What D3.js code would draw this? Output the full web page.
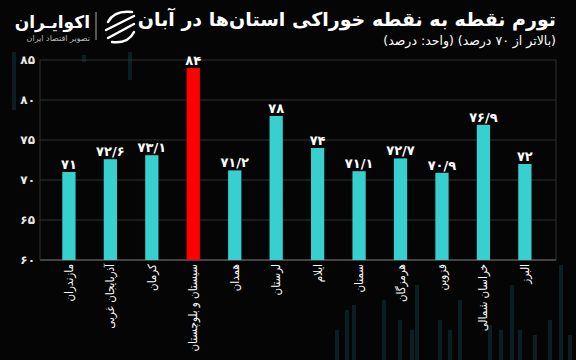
<!DOCTYPE html>
<html><head><meta charset="utf-8">
<script src="https://cdn.jsdelivr.net/npm/d3@7"></script>
<style>
html,body{margin:0;padding:0;background:#050505;}
svg{display:block;}
text{font-family:"DejaVu Sans","Noto Sans",sans-serif;}
.cond{font-family:"DejaVu Sans Condensed","DejaVu Sans",sans-serif;}
</style></head>
<body>
<svg id="c" width="576" height="360"></svg>
<script>
const provinces = ["مازندران","آذربایجان غربی","کرمان","سیستان و بلوچستان","همدان","لرستان","ایلام","سمنان","هرمزگان","قزوین","خراسان شمالی","البرز"];
const values = [71, 72.6, 73.1, 84, 71.2, 78, 74, 71.1, 72.7, 70.9, 76.9, 72];
const highlight = "سیستان و بلوچستان";
const yTicks = [60, 65, 70, 75, 80, 85];
const title = "تورم نقطه به نقطه خوراکی استان‌ها در آبان";
const subtitle = "(بالاتر از ۷۰ درصد) (واحد: درصد)";
const brand = "اکوایـران";
const brandSub = "تصویر اقتصاد ایران";

const fa = s => String(s).replace(/\d/g, d => "۰۱۲۳۴۵۶۷۸۹"[d]).replace(".", "/");

const svg = d3.select("#c");
svg.append("rect").attr("width",576).attr("height",360).attr("fill","#050505");

// faint decorative background bars
const deco = svg.append("g").attr("fill","#0d262b").attr("opacity",0.8);
[[12,52,110],[82,55,62],[128,52,80],[335,330,360],[345,310,360],[352,305,360],[382,300,360],[398,320,360],[410,330,360],[415,285,360],[438,320,360],[448,330,360],[458,300,360],[488,325,360],[499,330,360],[510,285,360],[518,330,360],[533,335,360],[548,320,360],[559,265,360],[568,335,360]]
  .forEach(([x,y0,y1]) => deco.append("rect").attr("x",x).attr("y",y0).attr("width",4).attr("height",y1-y0));

const x = d3.scaleBand().domain(provinces).range([34.1, 559.7]).padding(0.68);
const y = d3.scaleLinear().domain([60, 85]).range([260, 60]);

// grid
const g = svg.append("g");
g.selectAll("line.grid").data(yTicks).join("line")
  .attr("x1",40).attr("x2",556).attr("y1",d=>y(d)).attr("y2",d=>y(d))
  .attr("stroke",d=>d===60?"#5a5a5a":"#333").attr("stroke-width",d=>d===60?1.5:1);
g.append("line").attr("x1",40).attr("x2",40).attr("y1",60).attr("y2",260).attr("stroke","#333");
g.append("line").attr("x1",556).attr("x2",556).attr("y1",60).attr("y2",260).attr("stroke","#333");

const yAxis = d3.axisLeft(y).tickValues(yTicks).tickSize(0).tickPadding(5).tickFormat(fa);
svg.append("g").attr("transform","translate(40,0)").call(yAxis)
  .call(a => a.select(".domain").remove())
  .selectAll("text").attr("fill","#e8e8e8").attr("font-size",12).attr("font-weight","bold");

// bars
svg.selectAll("rect.bar").data(provinces).join("rect")
  .attr("x",d=>x(d)).attr("width",x.bandwidth())
  .attr("y",(d,i)=>y(values[i])).attr("height",(d,i)=>y(60)-y(values[i]))
  .attr("fill",d=>d===highlight?"#ff0000":"#38cfcf");

svg.selectAll("text.val").data(provinces).join("text")
  .attr("x",d=>x(d)+x.bandwidth()/2).attr("y",(d,i)=>y(values[i])-3)
  .attr("text-anchor","middle").attr("fill","#fff").attr("font-size",13).attr("font-weight","bold")
  .text((d,i)=>fa(values[i]));

// x labels
svg.selectAll("text.xl").data(provinces).join("text")
  .attr("class","cond")
  .attr("transform",d=>`translate(${x(d)+x.bandwidth()/2+4},264) rotate(-90)`)
  .attr("direction","rtl").attr("text-anchor","start")
  .attr("fill","#fff").attr("font-size",11.5)
  .text(d=>d);

// title
svg.append("text").attr("x",556).attr("y",26).attr("direction","rtl").attr("text-anchor","start")
  .attr("fill","#fff").attr("font-size",19).attr("font-weight","bold").text(title);
svg.append("text").attr("x",556).attr("y",45).attr("direction","rtl").attr("text-anchor","start")
  .attr("fill","#fff").attr("font-size",12.5).text(subtitle);

// logo
const lg = svg.append("g");
lg.append("text").attr("x",90).attr("y",28).attr("direction","rtl").attr("text-anchor","start").attr("fill","#fff")
  .attr("font-size",17).attr("font-weight","bold").text(brand);
lg.append("text").attr("x",90).attr("y",41).attr("direction","rtl").attr("text-anchor","start").attr("fill","#bbb")
  .attr("font-size",8).text(brandSub);
lg.append("line").attr("x1",96).attr("x2",96).attr("y1",12).attr("y2",40).attr("stroke","#aaa");
const ic = lg.append("g").attr("fill","none").attr("stroke","#fff").attr("stroke-width",2.5).attr("stroke-linecap","round");
ic.append("path").attr("d","M108,22 Q114,10 132,12");
ic.append("path").attr("d","M106,30 L134,16");
ic.append("path").attr("d","M108,38 L134,24");
ic.append("path").attr("d","M112,42 Q128,44 134,32");
</script>
</body></html>
